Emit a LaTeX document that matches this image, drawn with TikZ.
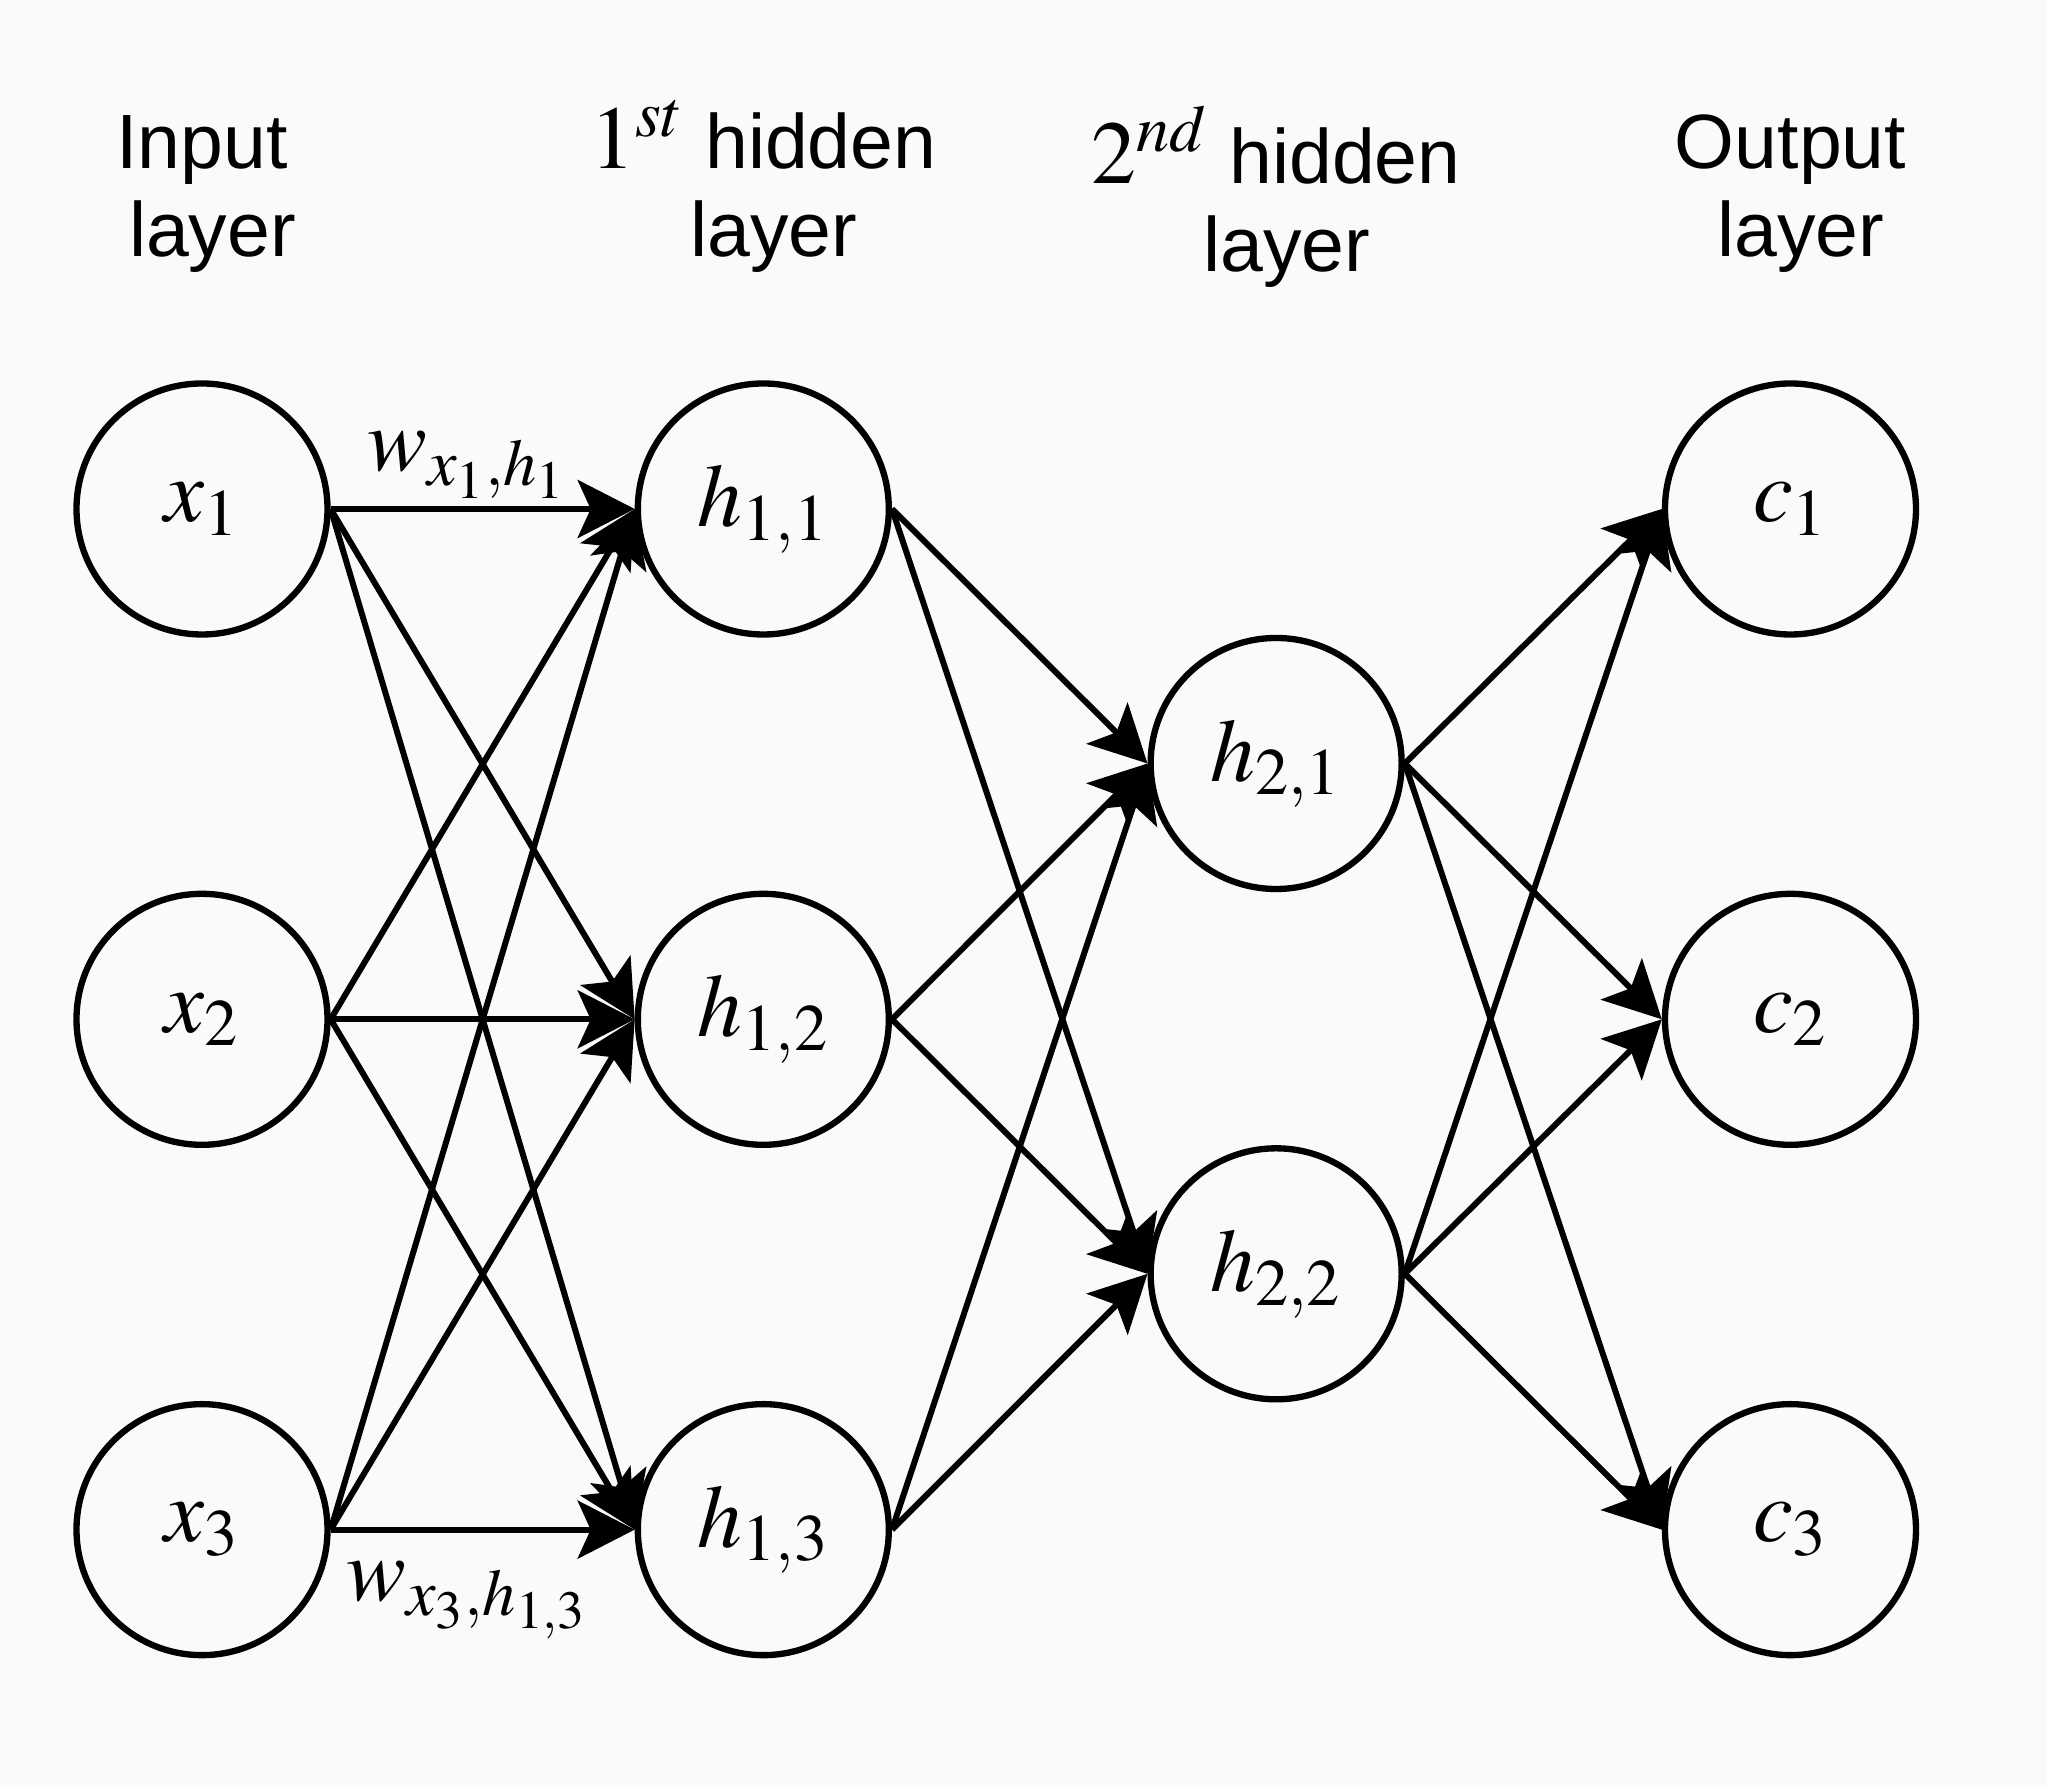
\documentclass[tikz,border=0pt]{standalone}
\usepackage{mathptmx}
\usepackage[no-math]{fontspec}
\setmainfont{Liberation Sans}
\usepackage{tikz}
\usetikzlibrary{arrows.meta, positioning}
\definecolor{bgpaper}{RGB}{250,250,250}
\newcommand{\mathsz}{\fontsize{25.5}{30}\selectfont}
\newcommand{\hdrsz}{\fontsize{21.9}{25}\selectfont}
\tikzstyle{neuron} = [circle, draw=black, line width=1.8pt, minimum size=2.51cm, inner sep=0pt, font=\mathsz]
\tikzstyle{arrow} = [line width=1.7pt, -{Stealth[length=5.7mm, width=5.8mm, inset=1.3mm]}]
\tikzstyle{layerlabel} = [align=center, inner sep=0pt, font=\hdrsz]
\tikzstyle{weight} = [inner sep=2pt, font=\mathsz]

\begin{document}
\begin{tikzpicture}

% Canvas
\fill [bgpaper] (0,0) rectangle (20.47,17.87);
\useasboundingbox (0,0) rectangle (20.47,17.87);

% Input layer
\node (x1) [neuron] at (2.02,12.78) {$x_1$};
\node (x2) [neuron, below=2.53cm of x1] {$x_2$};
\node (x3) [neuron, below=2.53cm of x2] {$x_3$};

% 1st hidden layer
\node (h11) [neuron, right=3.04cm of x1] {$h_{1,1}$};
\node (h12) [neuron, below=2.53cm of h11] {$h_{1,2}$};
\node (h13) [neuron, below=2.53cm of h12] {$h_{1,3}$};

% 2nd hidden layer
\node (h21) [neuron, right=2.555cm of h11, yshift=-2.545cm] {$h_{2,1}$};
\node (h22) [neuron, below=2.53cm of h21] {$h_{2,2}$};

% Output layer
\node (c1) [neuron, right=2.57cm of h21, yshift=2.545cm] {$c_1$};
\node (c2) [neuron, below=2.53cm of c1] {$c_2$};
\node (c3) [neuron, below=2.53cm of c2] {$c_3$};

% Layer titles
\node (hdrin) [layerlabel, above=1.07cm of x1] {Input\\\hspace*{0.21cm}layer};
\node (hdrhidA) [layerlabel, above=1.07cm of h11] {{\mathsz$1^{st}$} hidden\\\hspace*{0.21cm}layer};
\node (hdrhidB) [layerlabel, yshift=-0.1cm] at (hdrhidA -| h21) {{\mathsz$2^{nd}$} hidden\\\hspace*{0.21cm}layer};
\node (hdrout) [layerlabel, above=1.07cm of c1] {Output\\\hspace*{0.21cm}layer};

% Input -> 1st hidden
\draw [arrow] (x1.east) -- node (wtop) [weight, above, pos=0.45] {$w_{x_1,h_1}$} (h11.west);
\draw [arrow] (x1.east) -- (h12.west);
\draw [arrow] (x1.east) -- (h13.west);
\draw [arrow] (x2.east) -- (h11.west);
\draw [arrow] (x2.east) -- (h12.west);
\draw [arrow] (x2.east) -- (h13.west);
\draw [arrow] (x3.east) -- (h11.west);
\draw [arrow] (x3.east) -- (h12.west);
\draw [arrow] (x3.east) -- node (wbot) [weight, below, pos=0.45, yshift=-0.22cm] {$w_{x_3,h_{1,3}}$} (h13.west);

% 1st hidden -> 2nd hidden
\draw [arrow] (h11.east) -- (h21.west);
\draw [arrow] (h11.east) -- (h22.west);
\draw [arrow] (h12.east) -- (h21.west);
\draw [arrow] (h12.east) -- (h22.west);
\draw [arrow] (h13.east) -- (h21.west);
\draw [arrow] (h13.east) -- (h22.west);

% 2nd hidden -> output
\draw [arrow] (h21.east) -- (c1.west);
\draw [arrow] (h21.east) -- (c2.west);
\draw [arrow] (h21.east) -- (c3.west);
\draw [arrow] (h22.east) -- (c1.west);
\draw [arrow] (h22.east) -- (c2.west);
\draw [arrow] (h22.east) -- (c3.west);

\end{tikzpicture}
\end{document}
